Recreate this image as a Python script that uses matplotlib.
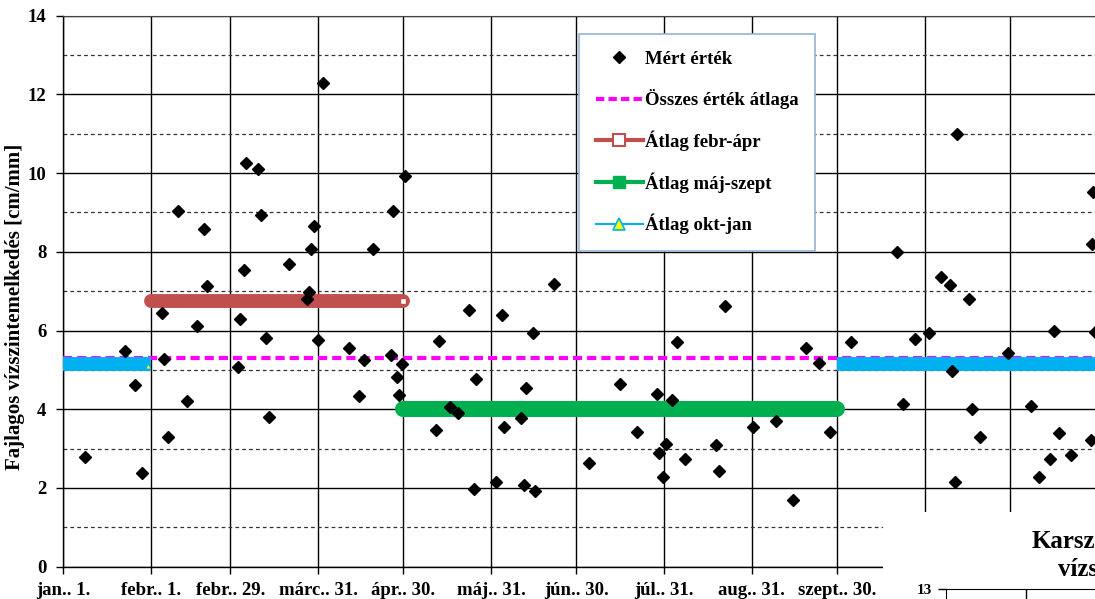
import matplotlib.pyplot as plt
import matplotlib.patches as patches
from matplotlib.lines import Line2D

plt.rcParams['font.family'] = ['Liberation Serif', 'DejaVu Serif']
plt.rcParams['font.weight'] = 'bold'

# measured values: day counted from jan. 1. and specific water level rise [cm/mm]
days = [7.9, 21.8, 25.5, 27.9, 34.9, 35.5, 37.2, 40.7, 43.9, 47.2,
        49.8, 50.8, 61.7, 62.4, 63.9, 64.5, 68.9, 69.8, 71.6, 72.7,
        79.7, 86.0, 86.9, 87.5, 88.5, 90.1, 91.7, 100.9, 104.4, 106.2,
        109.5, 115.6, 116.5, 117.7, 118.6, 119.7, 120.6, 131.6, 132.8, 136.5,
        139.5, 143.3, 145.0, 145.7, 152.6, 154.9, 155.5, 161.4, 162.6, 163.3,
        165.7, 166.5, 173.3, 185.4, 196.5, 202.3, 209.4, 210.3, 211.7, 212.6,
        214.7, 216.5, 219.5, 230.4, 231.5, 233.5, 243.5, 251.4, 257.4, 262.1,
        266.5, 270.6, 277.8, 294.3, 296.4, 300.5, 305.5, 309.7, 312.8, 313.5,
        314.6, 315.5, 319.7, 320.5, 323.4, 333.4, 341.5, 344.3, 348.2, 349.6,
        351.4, 355.4, 362.5, 362.8, 363.4, 364.0]
values = [2.78, 5.49, 4.62, 2.39, 6.44, 5.27, 3.29, 9.04, 4.21, 6.12,
          8.57, 7.13, 5.08, 6.29, 7.54, 10.27, 10.10, 8.94, 5.82, 3.80,
          7.68, 6.80, 6.99, 8.06, 8.66, 5.75, 12.29, 5.56, 4.34, 5.25,
          8.06, 5.38, 9.04, 4.81, 4.36, 5.15, 9.93, 3.47, 5.74, 4.07,
          3.91, 6.52, 1.97, 4.78, 2.15, 6.39, 3.56, 3.77, 2.08, 4.53,
          5.95, 1.93, 7.19, 2.63, 4.63, 3.43, 4.39, 2.90, 2.27, 3.13,
          4.24, 5.70, 2.74, 3.10, 2.44, 6.62, 3.56, 3.71, 1.69, 5.56,
          5.17, 3.43, 5.71, 8.00, 4.13, 5.78, 5.93, 7.37, 7.17, 4.97,
          2.14, 10.99, 6.80, 4.01, 3.29, 5.44, 4.09, 2.27, 2.74, 5.99,
          3.40, 2.84, 3.22, 8.21, 9.51, 5.97]

tick_days = [0, 31, 59, 90, 120, 151, 181, 212, 243, 273, 304, 334, 365]
tick_labels = ["jan.. 1.", "febr.. 1.", "febr.. 29.", "márc.. 31.", "ápr.. 30.",
               "máj.. 31.", "jún.. 30.", "júl.. 31.", "aug.. 31.", "szept.. 30.",
               "okt.. 31.", "nov.. 30.", "dec.. 31."]

avg_all = 5.31
avg_feb_apr = 6.75
avg_maj_szept = 4.0
avg_okt_jan = 5.16

legend_labels = ["Mért érték", "Összes érték átlaga", "Átlag febr-ápr",
                 "Átlag máj-szept", "Átlag okt-jan"]

W, H = 1095, 599
fig = plt.figure(figsize=(W / 100, H / 100), dpi=100)
ax = fig.add_axes([63 / W, 32.3 / H, 1037.6 / W, 551 / H])

# averages
ax.plot([0, 366], [avg_all, avg_all], color='#ff00ff', lw=3,
        ls=(0, (2.2, 1.2)), zorder=3)
ax.plot([0, 31], [avg_okt_jan, avg_okt_jan], color='#00b0f0', lw=10,
        solid_capstyle='butt', zorder=4)
ax.plot([273, 366], [avg_okt_jan, avg_okt_jan], color='#00b0f0', lw=10,
        solid_capstyle='butt', zorder=4)
ax.plot([30], [avg_okt_jan - 0.05], ls='none', marker='^', ms=3.5,
        mfc='yellow', mec='#00b0f0', mew=0.5, zorder=4)
ax.plot([31, 120], [avg_feb_apr, avg_feb_apr], color='#c0504d', lw=10,
        solid_capstyle='round', zorder=4)
ax.plot([120], [avg_feb_apr], ls='none', marker='s', ms=4.5, mfc='white',
        mec='#c0504d', mew=1, zorder=4)
ax.plot([120, 273], [avg_maj_szept, avg_maj_szept], color='#00b050', lw=11.5,
        solid_capstyle='round', zorder=4)

# measured points
ax.plot(days, values, ls='none', marker='D', ms=6.5, color='black', zorder=6)

ax.set_xlim(0, 366)
ax.set_ylim(0, 14)
ax.set_xticks(tick_days)
ax.set_xticklabels(tick_labels)
# last labels lie under the neighbouring chart
for lbl in ax.get_xticklabels()[10:]:
    lbl.set_visible(False)
ax.set_yticks(range(0, 15, 2))
ax.set_yticks(range(1, 14, 2), minor=True)
ax.tick_params(axis='both', which='major', labelsize=13.5, length=5,
               width=1, pad=7, color='black')
ax.tick_params(axis='x', pad=6)
ax.tick_params(axis='y', which='minor', length=0)
ax.grid(True, which='major', color='black', lw=1)
ax.yaxis.grid(True, which='minor', color='#333333', lw=0.9, ls=(0, (3, 2.5)))
ax.set_axisbelow(True)
for s in ['left', 'bottom']:
    ax.spines[s].set_color('black')
    ax.spines[s].set_linewidth(1)
ax.spines['top'].set_color('#444444')
ax.spines['right'].set_visible(False)

ax.set_ylabel("Fajlagos vízszintemelkedés [cm/mm]", fontsize=15, fontweight='bold')
ax.yaxis.set_label_coords(-0.0362, 0.471)

handles = [
    Line2D([], [], ls='none', marker='D', color='black', ms=6),
    Line2D([], [], color='#ff00ff', lw=3, ls=(0, (2, 1))),
    Line2D([], [], color='#c0504d', lw=3, marker='s', ms=8, mfc='white',
           mec='#c0504d', mew=1.5),
    Line2D([], [], color='#00b050', lw=3, marker='s', ms=9, mfc='#00b050'),
    Line2D([], [], color='#00b0f0', lw=1.5, marker='^', ms=8, mfc='yellow',
           mec='#00b0f0', mew=1.2),
]
leg = ax.legend(handles, legend_labels, loc='upper left',
                bbox_to_anchor=(579 / W, 1 - 34 / H), bbox_transform=fig.transFigure,
                borderaxespad=0, fontsize=13.5, handlelength=2.5, handletextpad=0.1,
                labelspacing=1.13, borderpad=0.9, fancybox=False, framealpha=1)
leg.get_frame().set_edgecolor('#95b3d7')
leg.get_frame().set_linewidth(1.2)
leg.set_zorder(10)

# neighbouring chart overlapping the corner
fig.patches.append(patches.Rectangle((883 / W, 0), 1 - 883 / W, 87 / H,
                                     transform=fig.transFigure, facecolor='white',
                                     edgecolor='none', zorder=5))
fig.text(1032 / W, 1 - 542 / H, "Karsz", fontsize=18, fontweight='bold',
         va='center', ha='left', zorder=7)
fig.text(1058 / W, 1 - 570 / H, "vízs", fontsize=18, fontweight='bold',
         va='center', ha='left', zorder=7)
ax2 = fig.add_axes([946 / W, 10 / H - 0.2, 0.2, 0.2])
ax2.set_zorder(8)
ax2.patch.set_alpha(0)
ax2.set_ylim(11, 13)
ax2.set_xlim(0, 0.2 * W / 80)
ax2.set_yticks([13])
ax2.set_yticklabels(["13"])
ax2.set_xticks([1])
ax2.set_xticklabels([])
ax2.tick_params(axis='y', length=6, width=1, labelsize=11, pad=4)
ax2.tick_params(axis='x', length=0)
ax2.xaxis.grid(True, color='black', lw=1)
for s in ['right', 'bottom']:
    ax2.spines[s].set_visible(False)

fig.savefig("out.png", dpi=100)
